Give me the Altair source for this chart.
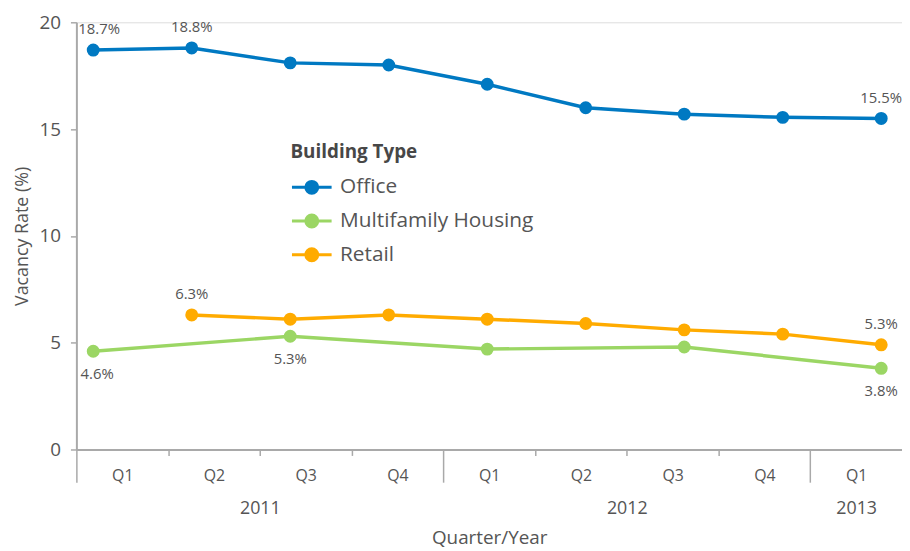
import altair as alt
import pandas as pd

# ---------------- data ----------------
quarters = ["Q1 2011", "Q2 2011", "Q3 2011", "Q4 2011",
            "Q1 2012", "Q2 2012", "Q3 2012", "Q4 2012", "Q1 2013"]
series_names = ["Office", "Multifamily Housing", "Retail"]
office = [18.7, 18.8, 18.1, 18.0, 17.1, 16.0, 15.7, 15.55, 15.5]
multifamily = [4.6, None, 5.3, None, 4.7, None, 4.8, None, 3.8]
retail = [None, 6.3, 6.1, 6.3, 6.1, 5.9, 5.6, 5.4, 4.9]
series_colors = ["#0079c2", "#9bd664", "#ffab00"]

quarter_labels = ["Q1", "Q2", "Q3", "Q4", "Q1", "Q2", "Q3", "Q4", "Q1"]
year_labels = ["2011", "2012", "2013"]
year_first_quarter = [0, 4, 8]
year_quarter_count = [4, 4, 1]

label_series = ["Office", "Office", "Office", "Retail", "Retail",
                "Multifamily Housing", "Multifamily Housing", "Multifamily Housing"]
label_quarter = ["Q1 2011", "Q2 2011", "Q1 2013", "Q2 2011", "Q1 2013",
                 "Q1 2011", "Q3 2011", "Q1 2013"]
label_text = ["18.7%", "18.8%", "15.5%", "6.3%", "5.3%", "4.6%", "5.3%", "3.8%"]
label_side = ["above", "above", "above", "above", "above", "below", "below", "below"]

# ---------------- tables ----------------
values_by_series = dict(zip(series_names, [office, multifamily, retail]))
rows = []
for s in series_names:
    for i, v in enumerate(values_by_series[s]):
        if v is not None:
            rows.append({"series": s, "idx": i, "quarter": quarters[i], "value": v})
df = pd.DataFrame(rows)

lab_rows = []
for s, q, t, side in zip(label_series, label_quarter, label_text, label_side):
    i = quarters.index(q)
    lab_rows.append({"series": s, "idx": i, "value": values_by_series[s][i],
                     "text": t, "side": side})
lab_df = pd.DataFrame(lab_rows)

FONT = "Open Sans"
TXT = "#555555"
AX = "#a9a9a9"

# ---------------- data layer ----------------
xq = alt.X("idx:Q", scale=alt.Scale(domain=[-0.171, 8.211], nice=False, zero=False), axis=None)
y_axis = alt.Axis(values=[0, 5, 10, 15, 20], title="Vacancy Rate (%)", grid=False,
                  labelFontSize=19, labelColor=TXT, labelFont=FONT, labelPadding=10,
                  tickSize=6, tickColor=AX, tickWidth=1.5,
                  domainColor=AX, domainWidth=2,
                  titleFont=FONT, titleFontSize=18, titleFontWeight="normal",
                  titleColor=TXT, titlePadding=8, orient="left")
yq = alt.Y("value:Q", scale=alt.Scale(domain=[0, 20], nice=False), axis=y_axis)

color_scale = alt.Scale(domain=series_names, range=series_colors)

legend_path = "M-1,0L3,0M0.4,0A0.6,0.6,0,1,0,1.6,0A0.6,0.6,0,1,0,0.4,0Z"
legend = alt.Legend(
    title="Building Type", orient="none", legendX=216, legendY=122,
    titleFont=FONT, titleFontSize=19, titleFontWeight="bold", titleColor="#474747",
    titlePadding=14, labelFont=FONT, labelFontSize=21, labelColor=TXT, labelLimit=400,
    symbolType=legend_path, symbolSize=400, symbolStrokeWidth=3,
    labelOffset=27, rowPadding=9,
)

lines = alt.Chart(df).mark_line(strokeWidth=3.5).encode(
    x=xq, y=yq,
    stroke=alt.Stroke("series:N", scale=color_scale, legend=legend),
    detail="series:N", order="idx:Q")
points = alt.Chart(df).mark_circle(size=170, opacity=1).encode(
    x=xq, y=yq,
    fill=alt.Fill("series:N", scale=color_scale, legend=legend))


def text_layer(side, first, dy, dx):
    cond = f"datum.side === '{side}' && " + ("datum.idx === 0" if first else "datum.idx !== 0")
    return alt.Chart(lab_df).transform_filter(cond).mark_text(
        dy=dy, dx=dx, baseline="middle", align="center", font=FONT, fontSize=15, color=TXT
    ).encode(x=xq, y=yq, text="text:N")


texts = [text_layer("above", False, -21, 0), text_layer("above", True, -21, 6),
         text_layer("below", False, 23, 0), text_layer("below", True, 23, 4)]

data_layer = alt.LayerChart(layer=[lines, points] + texts)

# ---------------- grouped category axis layer ----------------
n_q = len(quarters)
axis_df = pd.DataFrame({"pos": [0, n_q]})
xscale_b = alt.Scale(domain=[0, n_q], nice=False, zero=False)

long_ticks = list(year_first_quarter)
short_ticks = [i for i in range(1, n_q) if i not in long_ticks]
q_centers = [i + 0.5 for i in range(n_q)]
y_centers = [f + c / 2 for f, c in zip(year_first_quarter, year_quarter_count)]

q_expr = "[" + ",".join(f"'{q}'" for q in quarter_labels) + "][floor(datum.value)]"
y_expr = "{" + ",".join(f"'{v:g}':'{y}'" for v, y in zip(y_centers, year_labels)) + "}[datum.value]"


def axis_chart(axis):
    return alt.Chart(axis_df).mark_point(opacity=0).encode(
        x=alt.X("pos:Q", scale=xscale_b, axis=axis))


ax_short = axis_chart(alt.Axis(orient="bottom", values=short_ticks, labels=False, title=None,
                               grid=False, tickSize=6, tickColor=AX, tickWidth=1.5,
                               domainColor=AX, domainWidth=2))
ax_long = axis_chart(alt.Axis(orient="bottom", values=long_ticks, labels=False, title=None,
                              grid=False, tickSize=33, tickColor=AX, tickWidth=1.5,
                              domain=False))
ax_q = axis_chart(alt.Axis(orient="bottom", values=q_centers, labelExpr=q_expr, title=None,
                           grid=False, ticks=False, tickSize=0, domain=False,
                           labelFont=FONT, labelFontSize=16, labelColor=TXT,
                           labelPadding=18, labelFlush=False, labelOverlap=False))
ax_y = axis_chart(alt.Axis(orient="bottom", values=y_centers, labelExpr=y_expr,
                           title="Quarter/Year", grid=False, ticks=False, tickSize=0,
                           domain=False, labelFont=FONT, labelFontSize=18, labelColor=TXT,
                           labelPadding=51, labelFlush=False, labelOverlap=False,
                           titleFont=FONT, titleFontSize=19, titleFontWeight="normal",
                           titleColor=TXT, titlePadding=11))

axis_layer = alt.LayerChart(layer=[ax_short, ax_long, ax_q, ax_y]).resolve_axis(x="independent")

chart = alt.LayerChart(layer=[data_layer, axis_layer]).resolve_scale(x="independent").properties(
    width=833, height=431,
    padding={"left": 69, "top": 12, "right": 0, "bottom": 100},
    autosize=alt.AutoSizeParams(type="none"),
).configure_view(stroke=None).configure(font=FONT)

chart.save("out.html", embed_options={"renderer": "svg", "actions": False})
